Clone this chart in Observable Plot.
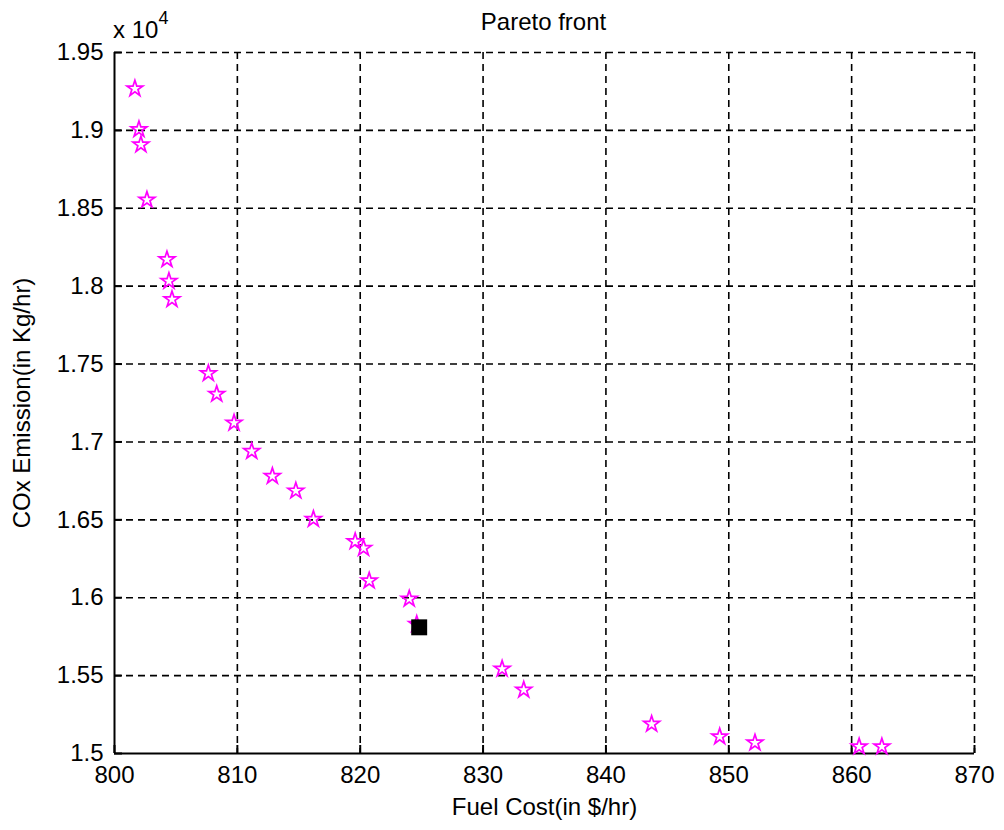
<!DOCTYPE html>
<html><head><meta charset="utf-8">
<script src="https://cdn.jsdelivr.net/npm/d3@7"></script>
<script src="https://cdn.jsdelivr.net/npm/@observablehq/plot@0.6"></script>
<style>
body{margin:0;background:#fff;}
#wrap{position:relative;width:1004px;height:830px;font-family:"Liberation Sans",Arial,sans-serif;color:#000;}
#title{position:absolute;left:0;top:8px;width:1087px;text-align:center;font-size:24px;line-height:28px;}
#exp{position:absolute;left:113px;top:16px;font-size:24px;line-height:28px;}
#exp sup{font-size:18px;position:relative;top:-5px;vertical-align:super;line-height:0;}
#chart{position:absolute;left:0;top:0;}
</style></head><body>
<div id="wrap"><div id="chart"></div><div id="title">Pareto front</div><div id="exp">x 10<sup>4</sup></div></div>
<script>
const fuelCost = [801.66, 801.99, 802.15, 802.64, 804.27, 804.43, 804.68, 807.64, 808.32, 809.73, 811.17, 812.85, 814.76, 816.19, 819.59, 820.27, 820.73, 823.99, 824.6, 831.55, 833.31, 843.72, 849.26, 852.13, 860.61, 862.46];
const emission = [19268, 19006, 18908, 18554, 18171, 18032, 17915, 17440, 17307, 17122, 16940, 16780, 16686, 16504, 16361, 16318, 16109, 15992, 15830, 15543, 15408, 15189, 15108, 15069, 15044, 15044];
const bestCost = [824.8];
const bestEmission = [15810];
const xTicks = [800, 810, 820, 830, 840, 850, 860, 870];
const yTicks = [15000, 15500, 16000, 16500, 17000, 17500, 18000, 18500, 19000, 19500];
const xLabel = "Fuel Cost(in $/hr)";
const yLabel = "COx Emission(in Kg/hr)";

const front = fuelCost.map((x, i) => ({x, y: emission[i]}));
const best = bestCost.map((x, i) => ({x, y: bestEmission[i]}));
const dash = {stroke: "#000", strokeOpacity: 1, strokeWidth: 1.6, strokeDasharray: "7,5"};

const chart = Plot.plot({
  width: 1004, height: 830,
  marginLeft: 114, marginRight: 30, marginTop: 52, marginBottom: 77,
  style: {fontFamily: '"Liberation Sans", Arial, sans-serif', fontSize: "24px", color: "#000", background: "transparent"},
  x: {domain: [800, 870], ticks: xTicks},
  y: {domain: [15000, 19500], ticks: yTicks},
  marks: [
    Plot.gridX(xTicks.slice(1), dash),
    Plot.gridY(yTicks.slice(1), dash),
    Plot.ruleX([800], {stroke: "#000", strokeWidth: 2}),
    Plot.ruleY([15000], {stroke: "#000", strokeWidth: 2}),
    Plot.axisX(xTicks, {tickSize: -8, tickPadding: 20, strokeWidth: 2, label: xLabel, labelArrow: "none", labelAnchor: "center", labelOffset: 61, tickFormat: d => String(d)}),
    Plot.axisY(yTicks, {tickSize: -8, tickPadding: 19, strokeWidth: 2, label: yLabel, labelArrow: "none", labelAnchor: "center", labelOffset: 102, tickFormat: d => String(d / 1e4)}),
    Plot.dot(front, {x: "x", y: "y", symbol: "star", r: 5, fill: "none", stroke: "#ff00ff", strokeWidth: 1.7}),
    Plot.dot(best, {x: "x", y: "y", symbol: "square", r: 9, fill: "#000", stroke: "none"})
  ]
});
document.getElementById("chart").appendChild(chart);
</script>
</body></html>
